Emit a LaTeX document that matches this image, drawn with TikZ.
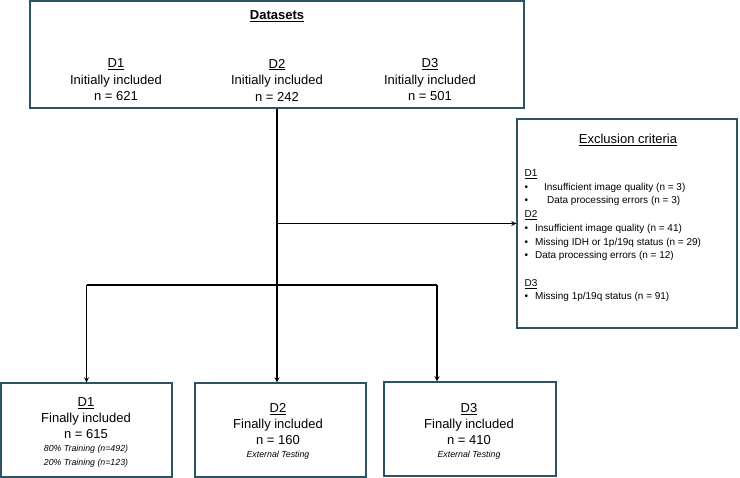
\documentclass[tikz,border=0pt]{standalone}
\usepackage{fontspec}
\setmainfont{Liberation Sans}
\usepackage[dvipsnames]{xcolor}
\definecolor{boxcol}{RGB}{44,84,96}

\begin{document}
\begin{tikzpicture}[x=1pt,y=-1pt,>=stealth,line width=1.2pt,
    frame/.style={draw=boxcol,line width=1.4pt,inner sep=0pt},
    big/.style={font=\fontsize{13}{16.5}\selectfont},
    mid/.style={font=\fontsize{13}{15.8}\selectfont},
    small/.style={font=\fontsize{10}{11}\selectfont,anchor=west,inner sep=0pt},
    note/.style={font=\fontsize{8.8}{10}\selectfont\itshape}]
    \useasboundingbox (0,0) rectangle (740,478);

    % boxes
    \node[frame,minimum width=494pt,minimum height=107pt] (datasets) at (277,54.5) {};
    \node[frame,minimum width=220pt,minimum height=209pt] (exclusion) at (627,223.5) {};
    \node[frame,minimum width=171pt,minimum height=94pt] (fin1) at (86.5,430) {};
    \node[frame,minimum width=171pt,minimum height=94pt] (fin2) at (280.5,430) {};
    \node[frame,minimum width=172pt,minimum height=94pt] (fin3) at (470,429) {};

    % top box text
    \node[big] (title) at (277,16) {\textbf{\underline{Datasets}}};
    \node[big,align=center] (ini1) at (116,80) {\underline{D1}\\Initially included\\n = 621};
    \node[big,align=center] (ini2) at (277,80) {\underline{D2}\\Initially included\\n = 242};
    \node[big,align=center] (ini3) at (430,80) {\underline{D3}\\Initially included\\n = 501};

    % exclusion text
    \node[big] (exctitle) at (628,140) {\underline{Exclusion criteria}};
    \node[small] (e1) at (524,174) {\underline{D1}};
    \node[small] (e1a) at (524,188) {\textbullet\hspace{16pt}Insufficient image quality (n = 3)};
    \node[small] (e1b) at (524,201) {\textbullet\hspace{19pt}Data processing errors (n = 3)};
    \node[small] (e2) at (524,215) {\underline{D2}};
    \node[small] (e2a) at (524,229) {\textbullet\hspace{7pt}Insufficient image quality (n = 41)};
    \node[small] (e2b) at (524,243) {\textbullet\hspace{7pt}Missing IDH or 1p/19q status (n = 29)};
    \node[small] (e2c) at (524,256) {\textbullet\hspace{7pt}Data processing errors (n = 12)};
    \node[small] (e3) at (524,284) {\underline{D3}};
    \node[small] (e3a) at (524,297) {\textbullet\hspace{7pt}Missing 1p/19q status (n = 91)};

    % bottom box text
    \node[mid,align=center] (res1) at (86,418) {\underline{D1}\\Finally included\\n = 615};
    \node[note,align=center] (tr1) at (86,456) {80\% Training (n=492)\\[4pt]20\% Training (n=123)};
    \node[mid,align=center] (res2) at (278,424) {\underline{D2}\\Finally included\\n = 160};
    \node[note] (te2) at (278,455) {External Testing};
    \node[mid,align=center] (res3) at (469,424) {\underline{D3}\\Finally included\\n = 410};
    \node[note] (te3) at (469,455) {External Testing};

    % connectors
    \coordinate (excl) at (277,223.5);
    \coordinate (split) at (277,285);
    \coordinate (left) at (86.5,285);
    \coordinate (right) at (437,285);
    \draw (datasets.south) -- (split);
    \draw[->] (excl) -- (exclusion.west);
    \draw (left) -- (right);
    \draw[->] (left) -- (fin1.north);
    \draw[->] (split) -- (split |- fin2.north);
    \draw[->] (right) -- (right |- fin3.north);
\end{tikzpicture}
\end{document}
